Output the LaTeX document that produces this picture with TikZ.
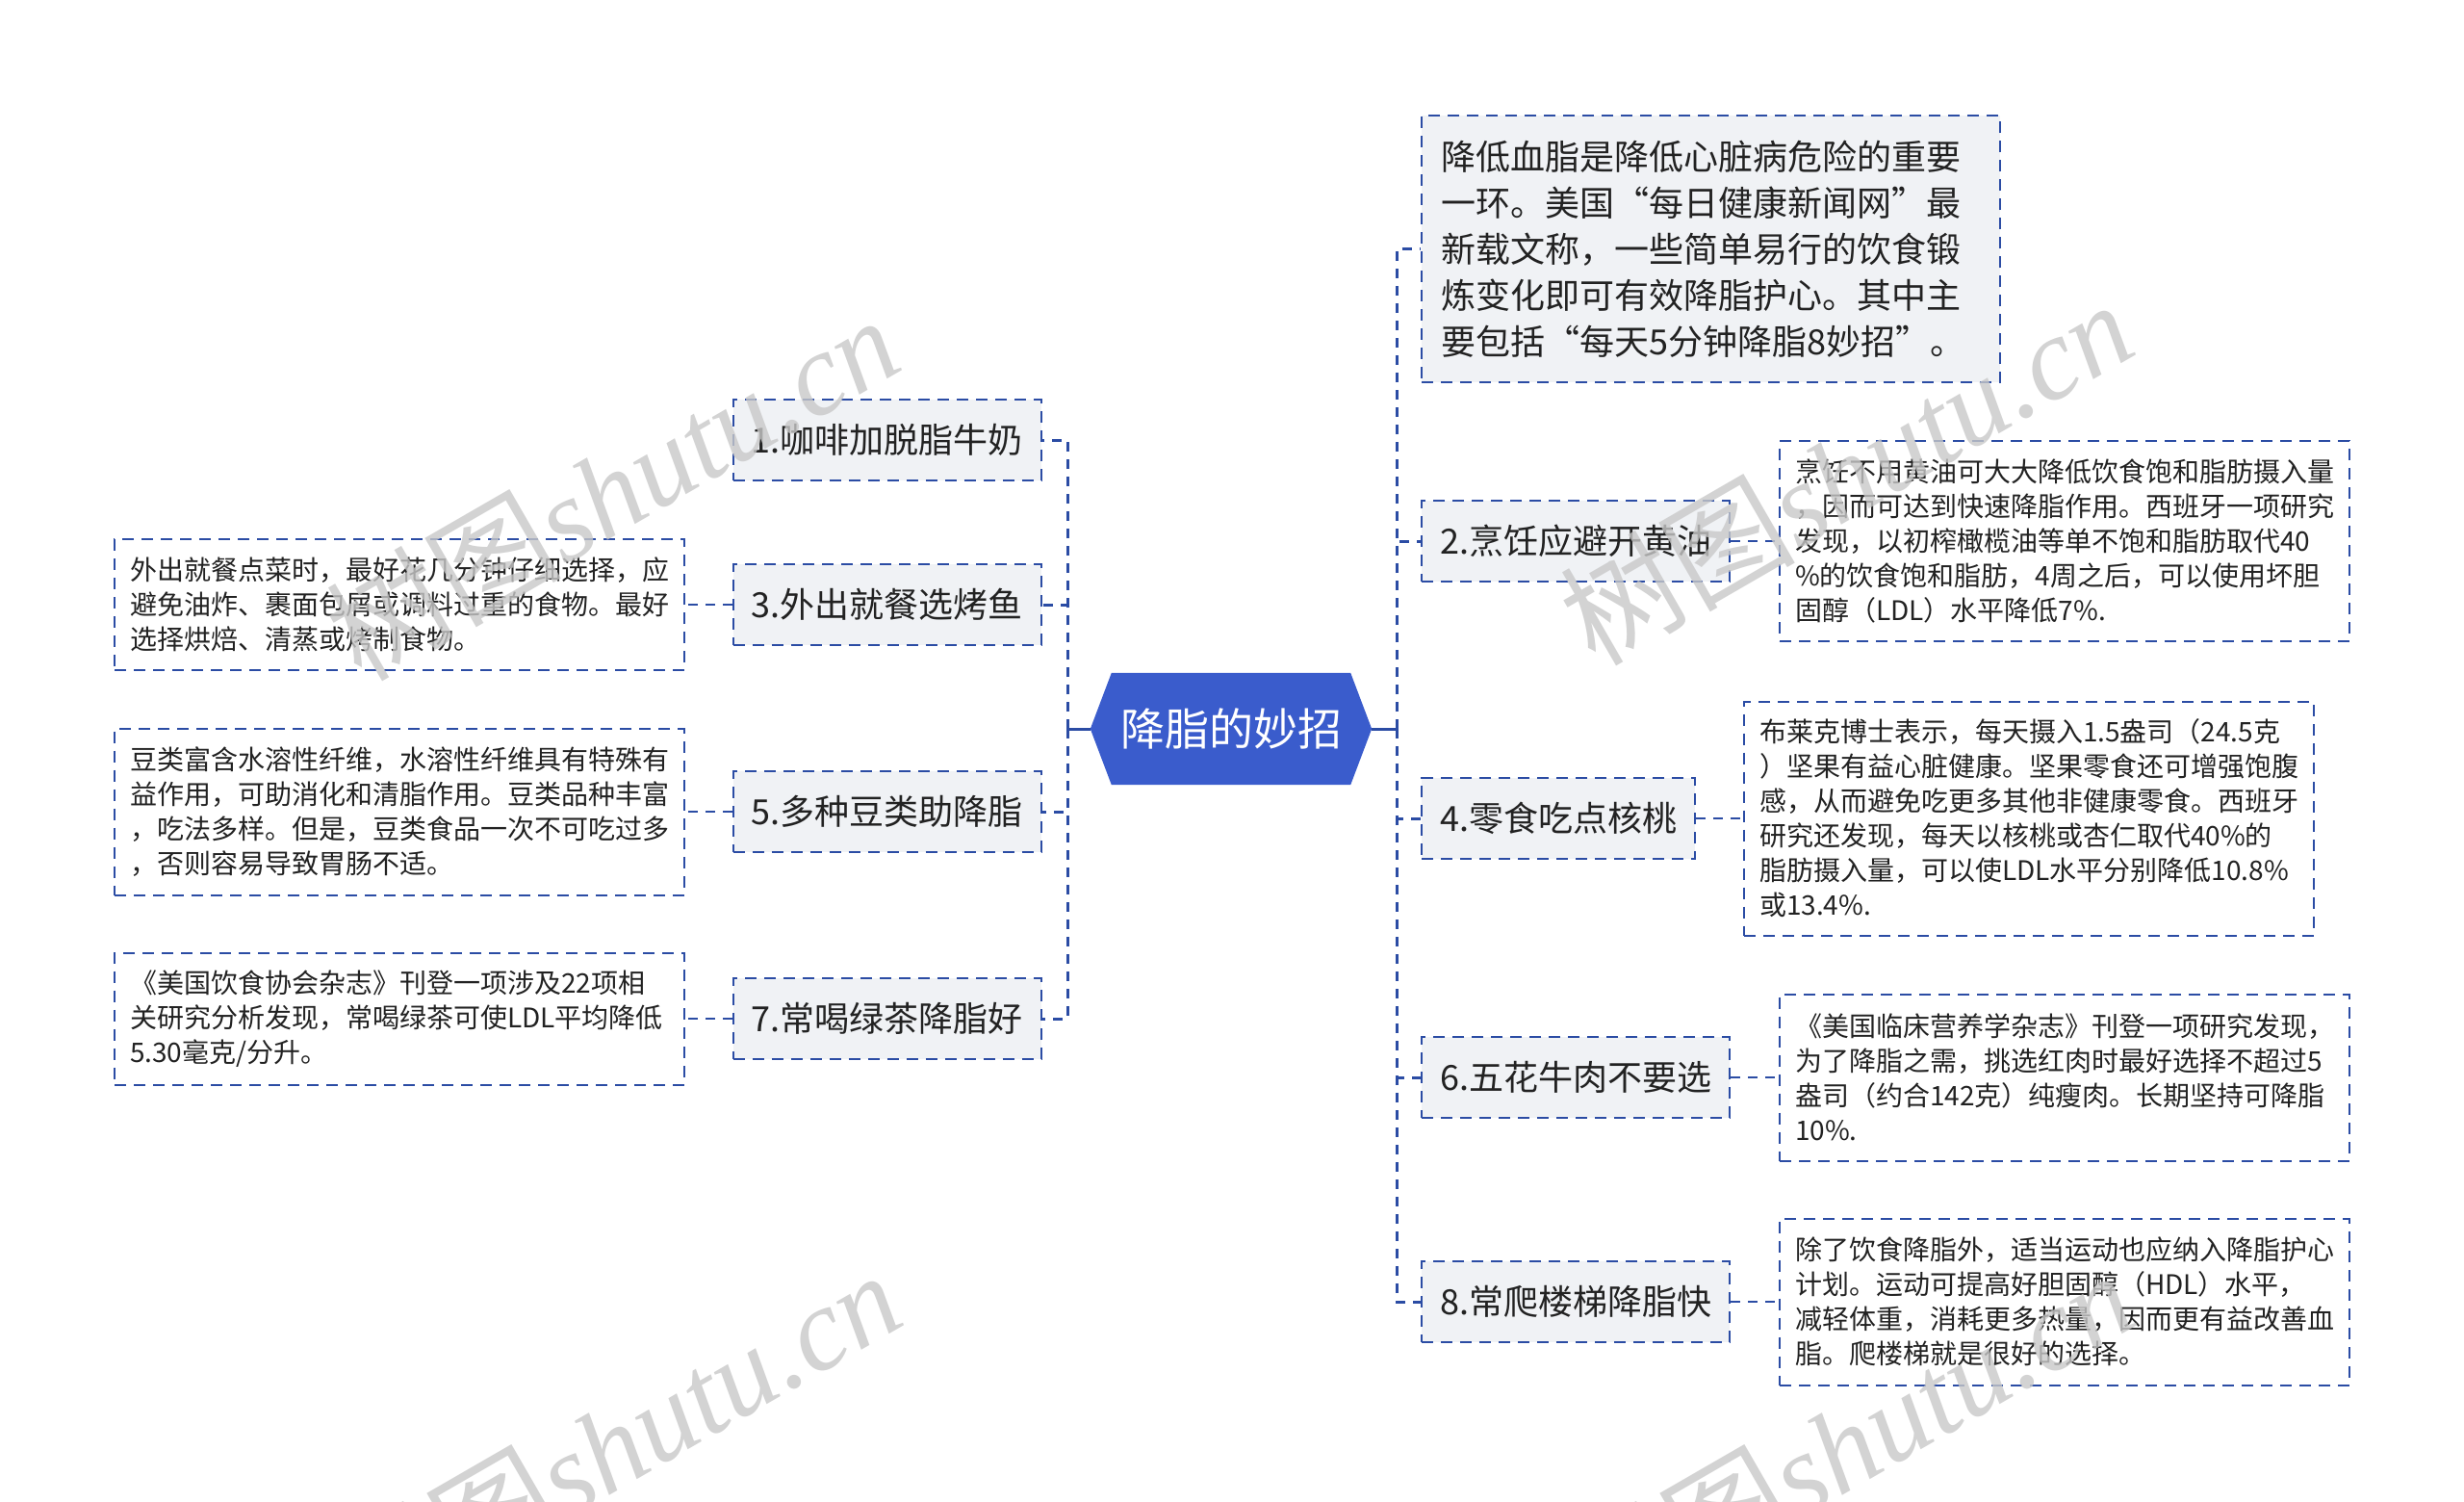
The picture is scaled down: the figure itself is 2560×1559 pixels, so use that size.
\documentclass[tikz,border=0pt]{standalone}
\usepackage{fontspec}
\setmainfont{Noto Sans CJK SC}
\newfontfamily\wmserif{Liberation Serif}
\newfontfamily\cjkfw[RawFeature=+fwid]{Noto Sans CJK SC}
\newcommand{\fwq}[1]{{\cjkfw #1}}
\usetikzlibrary{backgrounds}
\definecolor{lineblue}{RGB}{43,76,164}
\definecolor{hubblue}{RGB}{58,92,204}
\definecolor{topicfill}{RGB}{240,242,245}
\definecolor{txt}{RGB}{34,34,34}
\definecolor{wmgray}{RGB}{200,200,200}
\tikzset{
  hubnode/.style={text=white, font=\fontsize{46}{50}\selectfont, minimum width=292pt, minimum height=116pt, inner sep=0pt},
  topic/.style={draw=lineblue, line width=2.2pt, dash pattern=on 12pt off 8pt, fill=topicfill, text=txt,
    font=\fontsize{36}{48}\selectfont, minimum height=84pt, inner xsep=19pt, inner ysep=0pt},
  introbox/.style={draw=lineblue, line width=2.2pt, dash pattern=on 12pt off 8pt, fill=topicfill, text=txt,
    font=\fontsize{36}{48}\selectfont, align=left, text width=561pt, minimum height=277pt, inner xsep=20pt, inner ysep=0pt},
  detail/.style={draw=lineblue, line width=2pt, dash pattern=on 12pt off 8pt, fill=white, text=txt,
    font=\fontsize{28}{36}\selectfont, align=left, text width=560pt, inner xsep=16pt, inner ysep=0pt},
  conn/.style={draw=lineblue, line width=3pt, dash pattern=on 10pt off 8pt},
  branch/.style={draw=lineblue, line width=2.4pt, dash pattern=on 10pt off 8pt},
  stub/.style={draw=lineblue, line width=3pt},
  wm/.style={text=wmgray, opacity=0.8, inner sep=0pt, rotate=30, anchor=base east, font=\fontsize{122}{122}\selectfont}
}
\begin{document}
\begin{tikzpicture}[x=1pt, y=-1pt]
\useasboundingbox (0,0) rectangle (2560,1559);

% central topic
\node[hubnode] (hub) at (1279,757) {降脂的妙招};
\begin{scope}[on background layer]
  \fill[white] (0,0) rectangle (2560,1559);
  \fill[hubblue] (hub.west) -- ([xshift=22pt]hub.north west) -- ([xshift=-22pt]hub.north east)
    -- (hub.east) -- ([xshift=-22pt]hub.south east) -- ([xshift=22pt]hub.south west) -- cycle;
\end{scope}

\coordinate (tL) at (1109,757);
\coordinate (tR) at (1451,757);

% left topics
\node[topic, minimum width=320pt, anchor=east] (n1) at (1083,457) {1.咖啡加脱脂牛奶};
\node[topic, minimum width=320pt, anchor=east] (n3) at (1083,628) {3.外出就餐选烤鱼};
\node[topic, minimum width=320pt, anchor=east] (n5) at (1083,843) {5.多种豆类助降脂};
\node[topic, minimum width=320pt, anchor=east] (n7) at (1083,1058) {7.常喝绿茶降脂好};

% right topics
\node[introbox, anchor=west] (intro) at (1476,258.5) {降低血脂是降低心脏病危险的重要\\一环。美国\fwq{“}每日健康新闻网\fwq{”}最\\新载文称，一些简单易行的饮食锻\\炼变化即可有效降脂护心。其中主\\要包括\fwq{“}每天5分钟降脂8妙招\fwq{”}。};
\node[topic, minimum width=320pt, anchor=west] (n2) at (1476,562) {2.烹饪应避开黄油};
\node[topic, anchor=west] (n4) at (1476,850) {4.零食吃点核桃};
\node[topic, minimum width=320pt, anchor=west] (n6) at (1476,1119) {6.五花牛肉不要选};
\node[topic, minimum width=320pt, anchor=west] (n8) at (1476,1352) {8.常爬楼梯降脂快};

% left details
\node[detail, minimum height=136pt, anchor=east] (d3) at (712,628) {外出就餐点菜时，最好花几分钟仔细选择，应\\避免油炸、裹面包屑或调料过重的食物。最好\\选择烘焙、清蒸或烤制食物。};
\node[detail, minimum height=173pt, anchor=east] (d5) at (712,843) {豆类富含水溶性纤维，水溶性纤维具有特殊有\\益作用，可助消化和清脂作用。豆类品种丰富\\，吃法多样。但是，豆类食品一次不可吃过多\\，否则容易导致胃肠不适。};
\node[detail, minimum height=137pt, anchor=east] (d7) at (712,1058) {《美国饮食协会杂志》刊登一项涉及22项相\\关研究分析发现，常喝绿茶可使LDL平均降低\\5.30毫克/分升。};

% right details
\node[detail, minimum height=208pt, anchor=west] (d2) at (1848,562) {烹饪不用黄油可大大降低饮食饱和脂肪摄入量\\，因而可达到快速降脂作用。西班牙一项研究\\发现，以初榨橄榄油等单不饱和脂肪取代40\\\%的饮食饱和脂肪，4周之后，可以使用坏胆\\固醇（LDL）水平降低7\%.};
\node[detail, minimum height=243pt, anchor=west] (d4) at (1811,850) {布莱克博士表示，每天摄入1.5盎司（24.5克\\）坚果有益心脏健康。坚果零食还可增强饱腹\\感，从而避免吃更多其他非健康零食。西班牙\\研究还发现，每天以核桃或杏仁取代40\%的\\脂肪摄入量，可以使LDL水平分别降低10.8\%\\或13.4\%.};
\node[detail, minimum height=173pt, anchor=west] (d6) at (1848,1119) {《美国临床营养学杂志》刊登一项研究发现，\\为了降脂之需，挑选红肉时最好选择不超过5\\盎司（约合142克）纯瘦肉。长期坚持可降脂\\10\%.};
\node[detail, minimum height=173pt, anchor=west] (d8) at (1848,1352) {除了饮食降脂外，适当运动也应纳入降脂护心\\计划。运动可提高好胆固醇（HDL）水平，\\减轻体重，消耗更多热量，因而更有益改善血\\脂。爬楼梯就是很好的选择。};

% connectors
\draw[stub] (hub.west) -- (tL);
\draw[stub] (hub.east) -- (tR);
\draw[conn] (tL) |- (n1.east);
\draw[conn] (tL) |- (n3.east);
\draw[conn] (tL) |- (n5.east);
\draw[conn] (tL) |- (n7.east);
\draw[conn] (tR) |- (intro.west);
\draw[conn] (tR) |- (n2.west);
\draw[conn] (tR) |- (n4.west);
\draw[conn] (tR) |- (n6.west);
\draw[conn] (tR) |- (n8.west);
\draw[branch] (n3.west) -- (d3.east);
\draw[branch] (n5.west) -- (d5.east);
\draw[branch] (n7.west) -- (d7.east);
\draw[branch] (n2.east) -- (d2.west);
\draw[branch] (n4.east) -- (d4.west);
\draw[branch] (n6.east) -- (d6.west);
\draw[branch] (n8.east) -- (d8.west);

% watermarks
\node[wm] (wm1) at (942,382) {树图{\wmserif\itshape shutu.cn}};
\node[wm] (wm2) at (2224,366) {树图{\wmserif\itshape shutu.cn}};
\node[wm] (wm3) at (944,1374) {树图{\wmserif\itshape shutu.cn}};
\node[wm] (wm4) at (2225,1374) {树图{\wmserif\itshape shutu.cn}};
\end{tikzpicture}
\end{document}
